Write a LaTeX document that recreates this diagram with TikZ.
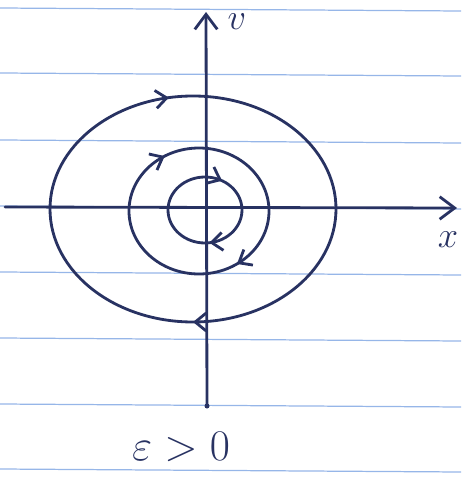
\documentclass[tikz,border=0pt]{standalone}
\usetikzlibrary{arrows.meta,decorations.markings}
\definecolor{ink}{RGB}{40,50,98}
\definecolor{ruling}{RGB}{150,182,232}
\tikzset{
  inkline/.style={draw=ink, color=ink, line width=1.6pt, line cap=round},
  barb/.style={-{Straight Barb[length=3mm, width=4.5mm]}},
  flow/.style 2 args={inkline, postaction={decorate},
    decoration={markings,
      mark=at position #1 with {\arrow{Straight Barb[length=2.2mm, width=3.6mm]}},
      mark=at position #2 with {\arrow{Straight Barb[length=2.2mm, width=3.6mm]}}}},
  lab/.style={text=ink, inner sep=0pt}
}
\begin{document}
\begin{tikzpicture}[x=0.02cm, y=-0.02cm]
\useasboundingbox (0,0) rectangle (461,480);
% ruled paper
\foreach \y in {8,73,140,206,272,338,404,469}
  \draw[ruling, line width=0.7pt] (0,\y) -- (461,\y+3);
% axes
\coordinate (xl) at (5,207);
\coordinate (xr) at (457,208);
\coordinate (vb) at (207,406);
\coordinate (vt) at (206,12);
\draw[inkline, barb] (xl) -- (xr);
\draw[inkline, barb] (vb) -- (vt);
\fill[ink] (vb) circle (2.5);
\node[lab, font=\fontsize{22}{26}\selectfont] (xlab) at (448,240) {$x$};
\node[lab, font=\fontsize{22}{26}\selectfont] (vlab) at (237,22) {$v$};
% orbits
\coordinate (c1) at (193,209);
\coordinate (c2) at (199,211);
\coordinate (c3) at (205,210);
\draw[flow={0.25}{0.72}] (c1) ellipse (143 and 113);
\draw[flow={0.155}{0.665}] (c2) ellipse (70 and 63);
\draw[flow={0.23}{0.83}] (c3) ellipse (37 and 33);
\node[lab, font=\fontsize{25}{30}\selectfont] (eps) at (181,447) {$\varepsilon>0$};
\end{tikzpicture}
\end{document}
